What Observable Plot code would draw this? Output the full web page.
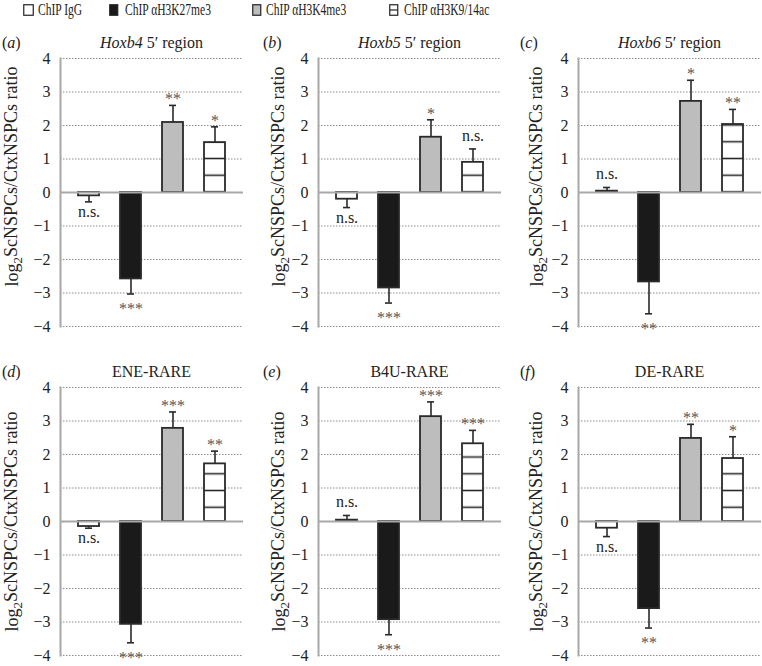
<!DOCTYPE html>
<html><head><meta charset="utf-8">
<script src="https://cdn.jsdelivr.net/npm/d3@7"></script>
<script src="https://cdn.jsdelivr.net/npm/@observablehq/plot@0.6"></script>
<style>
body{margin:0;background:#fff;}
#root{position:relative;width:762px;height:666px;overflow:hidden;font-family:"Liberation Serif","Times New Roman",serif;color:#222;}
.panel{position:absolute;width:251px;height:306px;}
.panel svg{max-width:none !important;}
.title{position:absolute;font-size:16px;line-height:16px;white-space:nowrap;transform:translateX(-50%);}
.plabel{position:absolute;font-size:16px;line-height:16px;white-space:nowrap;}
.lg{position:absolute;top:2px;font-size:16px;line-height:16px;white-space:nowrap;transform:scaleX(0.72);transform-origin:left center;}
.sw{position:absolute;top:4px;}
</style></head>
<body><div id="root"></div>
<script>
// ---------- data ----------
const series = ["ChIP IgG", "ChIP \u03b1H3K27me3", "ChIP \u03b1H3K4me3", "ChIP \u03b1H3K9/14ac"];
const panelLetters = ["a", "b", "c", "d", "e", "f"];
const titleItalic = ["Hoxb4", "Hoxb5", "Hoxb6", "", "", ""];
const titleRoman = [" 5\u2032 region", " 5\u2032 region", " 5\u2032 region", "ENE-RARE", "B4U-RARE", "DE-RARE"];

const iggMean = [-0.10, -0.20, 0.04, -0.15, 0.04, -0.20];
const iggErr  = [-0.28, -0.45, 0.15, -0.20, 0.18, -0.45];
const k27Mean = [-2.58, -2.85, -2.67, -3.07, -2.93, -2.60];
const k27Err  = [-3.03, -3.30, -3.62, -3.62, -3.38, -3.18];
const k4Mean  = [2.09, 1.65, 2.72, 2.78, 3.13, 2.48];
const k4Err   = [2.60, 2.17, 3.35, 3.27, 3.57, 2.90];
const k9Mean  = [1.49, 0.90, 2.03, 1.72, 2.32, 1.88];
const k9Err   = [1.96, 1.30, 2.48, 2.10, 2.72, 2.53];

const iggSig = ["n.s.", "n.s.", "n.s.", "n.s.", "n.s.", "n.s."];
const k27Sig = ["***", "***", "**", "***", "***", "**"];
const k4Sig  = ["**", "*", "*", "***", "***", "**"];
const k9Sig  = ["*", "n.s.", "**", "**", "***", "*"];

const yTicks = [-4, -3, -2, -1, 0, 1, 2, 3, 4];
const yLabel = "log\u2082ScNSPCs/CtxNSPCs ratio";

// ---------- styles / layout ----------
const means = [iggMean, k27Mean, k4Mean, k9Mean];
const errs = [iggErr, k27Err, k4Err, k9Err];
const sigs = [iggSig, k27Sig, k4Sig, k9Sig];
const colLeft = [0, 258, 518];
const rowTop = [30, 359];
const labelDx = [-48, -39, -41];
const labelDy = [-16, 0];
const hatchPhase = [0, -0.09];
const FONT = "'Liberation Serif','Times New Roman',serif";

const root = document.getElementById("root");

// legend
const legendSwatchX = [23, 109, 252, 389];
const legendTextX = [38, 125, 266, 404];
const legendFill = ["#fff", "#1a1a1a", "#bdbdbd", "#fff"];
series.forEach((s, j) => {
  const sw = document.createElementNS("http://www.w3.org/2000/svg", "svg");
  sw.setAttribute("class", "sw");
  sw.setAttribute("width", 11); sw.setAttribute("height", 12);
  sw.style.left = legendSwatchX[j] + "px";
  sw.innerHTML = `<rect x="0.75" y="0.75" width="${j===0?9.5:8}" height="10.5" fill="${legendFill[j]}" stroke="#222" stroke-width="1.2"/>` +
    (j === 3 ? `<line x1="0.75" x2="8.75" y1="6" y2="6" stroke="#222" stroke-width="1.2"/>` : "");
  root.appendChild(sw);
  const t = document.createElement("div");
  t.className = "lg";
  t.style.left = legendTextX[j] + "px";
  t.textContent = s;
  root.appendChild(t);
});

function drawPanel(i) {
  const row = Math.floor(i / 3), col = i % 3;
  const data = series.map((s, j) => ({series: s, idx: j, mean: means[j][i], err: errs[j][i], sig: sigs[j][i]}));
  const pid = "hatch-" + panelLetters[i];
  const fills = ["#ffffff", "#1a1a1a", "#bdbdbd", `url(#${pid})`];
  const isStar = d => d.sig !== "n.s.";
  const pos = d => d.err >= 0;
  const textCommon = {x: "series", y: "err", text: "sig", lineAnchor: "bottom", fontSize: 16};
  const plot = Plot.plot({
    width: 251, height: 306,
    marginLeft: 60, marginRight: 8, marginTop: 28, marginBottom: 10,
    style: {fontFamily: FONT, fontSize: "16px", color: "#222", background: "transparent", overflow: "visible"},
    x: {domain: series, paddingInner: 0.49, paddingOuter: 0.39, axis: null},
    y: {domain: [-4, 4], ticks: yTicks, tickSize: 0, tickPadding: 10, label: null},
    color: {type: "identity"},
    marks: [
      Plot.ruleY(yTicks.filter(t => t !== 0), {stroke: "#8c8c8c", strokeWidth: 1, strokeDasharray: "1.5,1.5"}),
      Plot.barY(data, {x: "series", y: "mean", fill: d => fills[d.idx], stroke: "#2a2a2a", strokeWidth: 1.8}),
      Plot.ruleY([0], {stroke: "#a8a8a8", strokeWidth: 2}),
      Plot.frame({anchor: "left", stroke: "#a8a8a8", strokeWidth: 2}),
      Plot.ruleX(data, {x: "series", y1: "mean", y2: "err", stroke: "#2a2a2a", strokeWidth: 1.6}),
      Plot.tickY(data, {x: "series", y: "err", insetLeft: 7, insetRight: 7, stroke: "#2a2a2a", strokeWidth: 1.6}),
      Plot.text(data, {...textCommon, filter: d => pos(d) && isStar(d), dy: -1, fill: "#555"}),
      Plot.text(data, {...textCommon, filter: d => pos(d) && !isStar(d), dy: -8, fill: "#222"}),
      Plot.text(data, {...textCommon, filter: d => !pos(d) && isStar(d), dy: 20, fill: "#555"}),
      Plot.text(data, {...textCommon, filter: d => !pos(d) && !isStar(d), dy: 15, fill: "#222"}),
      Plot.text([yLabel], {frameAnchor: "left", textAnchor: "middle", rotate: -90, dx: labelDx[col], dy: labelDy[row], fontSize: 18, fill: "#222"})
    ]
  });
  // hatch pattern for the last series
  const ys = plot.scale("y");
  const step = Math.abs(ys.apply(0.5) - ys.apply(0));
  const firstLine = ys.apply(0.5 + hatchPhase[row]);
  const svg = d3.select(plot);
  const defs = svg.insert("defs", ":first-child");
  const pat = defs.append("pattern").attr("id", pid).attr("patternUnits", "userSpaceOnUse")
    .attr("x", 0).attr("y", firstLine - step / 2).attr("width", 20).attr("height", step);
  pat.append("rect").attr("width", 20).attr("height", step).attr("fill", "#fff");
  pat.append("line").attr("x1", 0).attr("x2", 20).attr("y1", step / 2).attr("y2", step / 2)
    .attr("stroke", "#2a2a2a").attr("stroke-width", 1.6);
  // subscript in axis label
  svg.selectAll("text").filter(function () { return this.textContent === yLabel; }).each(function () {
    const t = d3.select(this);
    t.text(null);
    const parts = yLabel.split("\u2082");
    t.append("tspan").text(parts[0]);
    t.append("tspan").attr("dy", "0.3em").attr("font-size", "0.72em").text("2");
    t.append("tspan").attr("dy", "-0.3em").text(parts[1]);
  });
  const wrap = document.createElement("div");
  wrap.className = "panel";
  wrap.style.left = colLeft[col] + "px";
  wrap.style.top = rowTop[row] + "px";
  wrap.appendChild(plot);
  root.appendChild(wrap);

  // title and panel letter
  const tt = document.createElement("div");
  tt.className = "title";
  tt.style.left = (colLeft[col] + 60 + 91.5) + "px";
  tt.style.top = (row === 0 ? 35 : 364) + "px";
  tt.innerHTML = (titleItalic[i] ? `<i>${titleItalic[i]}</i>` : "") + titleRoman[i];
  root.appendChild(tt);
  const pl = document.createElement("div");
  pl.className = "plabel";
  pl.style.left = ([2, 263, 520][col]) + "px";
  pl.style.top = (row === 0 ? 35 : 364) + "px";
  pl.innerHTML = `(<i>${panelLetters[i]}</i>)`;
  root.appendChild(pl);
}

for (let i = 0; i < 6; i++) drawPanel(i);
</script>
</body></html>
